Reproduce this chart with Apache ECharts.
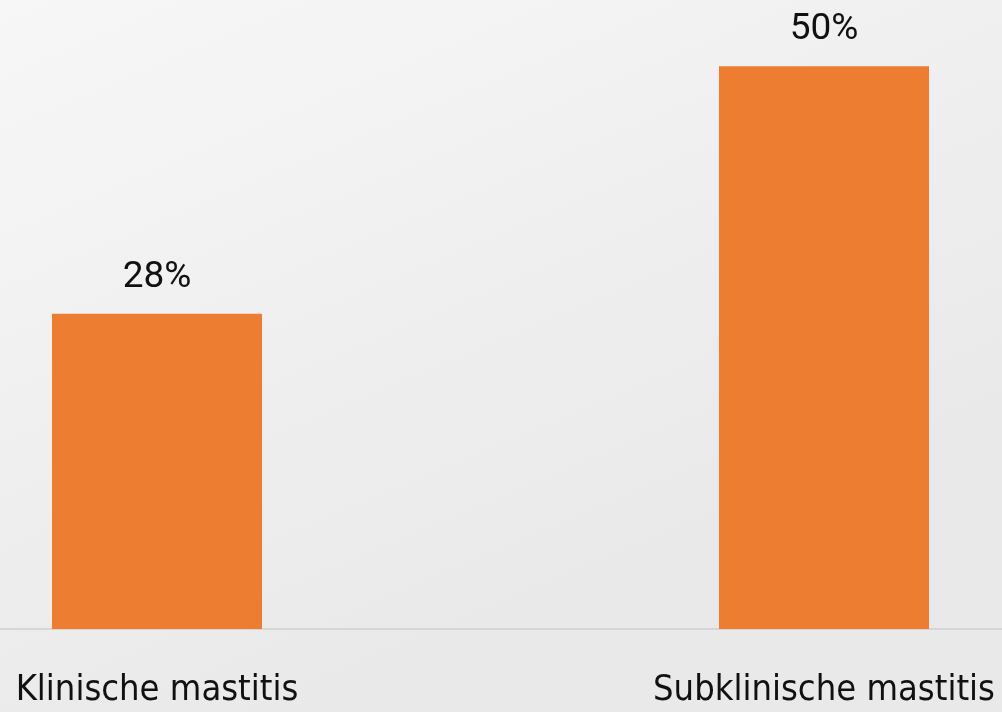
<!DOCTYPE html>
<html>
<head>
<meta charset="utf-8">
<script src="https://cdn.jsdelivr.net/npm/echarts@6/dist/echarts.min.js"></script>
<style>
  html, body { margin: 0; padding: 0; }
  #chart { width: 1002px; height: 712px; }
</style>
</head>
<body>
<div id="chart"></div>
<script>
// categorieen en percentages
const categories = ['Klinische mastitis', 'Subklinische mastitis']
const percentages = [28, 50]

const chart = echarts.init(document.getElementById('chart'))
chart.setOption({
  backgroundColor: {
    type: 'linear', x: 0, y: 0, x2: 0.3, y2: 1,
    colorStops: [
      { offset: 0, color: '#f7f7f7' },
      { offset: 0.5, color: '#f0f0f0' },
      { offset: 1, color: '#e9e9e9' }
    ]
  },
  animation: false,
  // grid is breder dan het canvas: de grafiek is links en rechts afgesneden
  grid: {
    left: -176.5,
    right: -155.5,
    top: 10,
    bottom: 83,
    containLabel: false,
    outerBoundsMode: 'none'
  },
  xAxis: {
    type: 'category',
    data: categories,
    axisLine: { lineStyle: { color: '#d6d6d6', width: 2 } },
    axisTick: { show: false },
    axisLabel: {
      color: '#111',
      fontFamily: '"DejaVu Sans Condensed", sans-serif',
      fontSize: 36,
      margin: 44
    }
  },
  yAxis: {
    type: 'value',
    min: 0,
    max: 55,
    show: false,
    splitLine: { show: false }
  },
  series: [
    {
      type: 'bar',
      data: percentages,
      barWidth: 210,
      itemStyle: { color: '#ed7d31' },
      label: {
        show: true,
        position: 'top',
        distance: 18,
        formatter: '{c}%',
        color: '#111',
        fontFamily: 'Roboto, sans-serif',
        fontSize: 37
      }
    }
  ]
})
</script>
</body>
</html>
